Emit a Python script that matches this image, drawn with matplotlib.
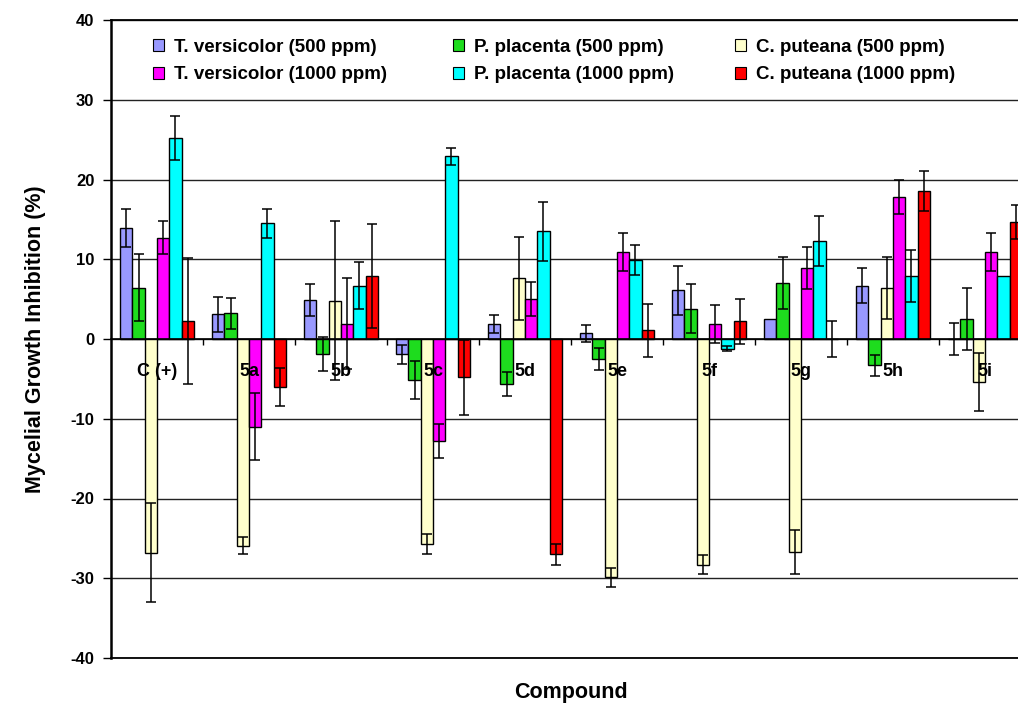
import numpy as np
import matplotlib
matplotlib.use("Agg")
import matplotlib.pyplot as plt
from matplotlib.patches import Patch

nan = np.nan

# ---------------- data ----------------
categories = ["C (+)", "5a", "5b", "5c", "5d", "5e", "5f", "5g", "5h", "5i"]

series_names = ["T. versicolor (500 ppm)", "P. placenta (500 ppm)", "C. puteana (500 ppm)",
                "T. versicolor (1000 ppm)", "P. placenta (1000 ppm)", "C. puteana (1000 ppm)"]

tv500 = [13.9, 3.1, 4.9, -1.9, 1.9, 0.7, 6.1, 2.5, 6.7, 0.0]
tv500_err = [2.4, 2.2, 2.0, 1.2, 1.1, 1.1, 3.1, nan, 2.2, 2.0]
pp500 = [6.4, 3.2, -1.9, -5.1, -5.7, -2.5, 3.8, 7.0, -3.3, 2.5]
pp500_err = [4.2, 2.0, 2.1, 2.4, 1.5, 1.4, 3.1, 3.3, 1.3, 3.9]
cp500 = [-26.8, -25.9, 4.8, -25.7, 7.6, -29.9, -28.3, -26.7, 6.4, -5.4]
cp500_err = [6.2, 1.1, 10.0, 1.2, 5.2, 1.2, 1.2, 2.8, 3.9, 3.6]
tv1000 = [12.7, -11.0, 1.9, -12.8, 5.0, 10.9, 1.9, 8.9, 17.8, 10.9]
tv1000_err = [2.1, 4.2, 5.7, 2.1, 2.1, 2.4, 2.4, 2.6, 2.1, 2.4]
pp1000 = [25.2, 14.5, 6.7, 22.9, 13.5, 9.9, -1.2, 12.3, 7.9, 7.9]
pp1000_err = [2.8, 1.8, 2.9, 1.1, 3.7, 1.9, 0.3, 3.1, 3.2, nan]
cp1000 = [2.2, -6.0, 7.9, -4.8, -27.0, 1.1, 2.2, 0.0, 18.6, 14.7]
cp1000_err = [7.9, 2.4, 6.5, 4.7, 1.3, 3.3, 2.8, 2.2, 2.5, 2.1]

y_ticks = [-40, -30, -20, -10, 0, 10, 20, 30, 40]

values = [tv500, pp500, cp500, tv1000, pp1000, cp1000]
errors = [tv500_err, pp500_err, cp500_err, tv1000_err, pp1000_err, cp1000_err]
colors = ["#9999FF", "#1EDC1E", "#FFFFCC", "#FF00FF", "#00FFFF", "#FF0000"]

# ---------------- style ----------------
FONT = ["Liberation Sans", "DejaVu Sans"]
plt.rcParams["font.family"] = FONT
plt.rcParams["font.weight"] = "bold"

W, H = 1018, 704
fig = plt.figure(figsize=(W / 100, H / 100), dpi=100)
ax = fig.add_axes([111 / W, 46 / H, 920 / W, 638 / H])

x = np.arange(len(categories))
n = len(values)
bw = 0.8 / n

for k, (vals, errs, col) in enumerate(zip(values, errors, colors)):
    pos = x + (k - (n - 1) / 2) * bw
    ax.bar(pos, vals, width=bw, color=col, edgecolor="black", linewidth=1.0, zorder=2)
    ax.errorbar(pos, vals, yerr=np.array(errs, dtype=float), fmt="none", ecolor="black",
                elinewidth=1.1, capsize=3.3, capthick=1.1, zorder=3)

ax.set_xlim(-0.5, len(categories) - 0.5)
ax.set_ylim(-40, 40)
ax.set_yticks(y_ticks)
ax.set_yticklabels([str(t) for t in y_ticks], fontsize=12, fontweight="bold")
ax.tick_params(axis="y", direction="out", length=6, width=1.0, pad=6)
ax.set_xticks([])
ax.yaxis.grid(True, color="#222222", linewidth=1.0, zorder=0)
ax.set_axisbelow(True)

for side in ["top", "bottom", "right"]:
    ax.spines[side].set_linewidth(1.3)
ax.spines["left"].set_linewidth(1.8)

# category axis at zero
sec = ax.secondary_xaxis(0.5)
sec.set_alignment("bottom")
sec.set_xticks(x, labels=categories)
sec.set_xticks(x[:-1] + 0.5, minor=True)
sec.tick_params(axis="x", which="major", length=0, pad=17.5, labelsize=13)
sec.tick_params(axis="x", which="minor", length=4, width=1.0, direction="out")
for lbl in sec.get_xticklabels():
    lbl.set_fontweight("bold")
sec.spines["bottom"].set_linewidth(1.2)
sec.set_zorder(5)

ax.set_xlabel("Compound", fontsize=15.5, fontweight="bold")
ax.xaxis.set_label_coords(0.5, -0.0533)
ax.xaxis.label.set_va("center")
ax.set_ylabel("Mycelial Growth Inhibition (%)", fontsize=15.5, fontweight="bold")
ax.yaxis.set_label_coords(-0.0826, 0.5)
ax.yaxis.label.set_va("center")

# legend: three columns of two rows
col_left_px = [153, 453, 735]
for c in range(3):
    handles = [Patch(facecolor=colors[c], edgecolor="black", linewidth=0.8),
               Patch(facecolor=colors[c + 3], edgecolor="black", linewidth=0.8)]
    labels = [series_names[c], series_names[c + 3]]
    leg = fig.legend(handles, labels, loc="upper left",
                     bbox_to_anchor=(col_left_px[c] / W, 1 - 39 / H),
                     bbox_transform=fig.transFigure, frameon=False,
                     prop={"family": FONT, "weight": "bold", "size": 13.5},
                     handlelength=0.6, handleheight=0.6, handletextpad=0.5,
                     labelspacing=0.55, borderpad=0, borderaxespad=0)

fig.savefig("out.png", dpi=100)
